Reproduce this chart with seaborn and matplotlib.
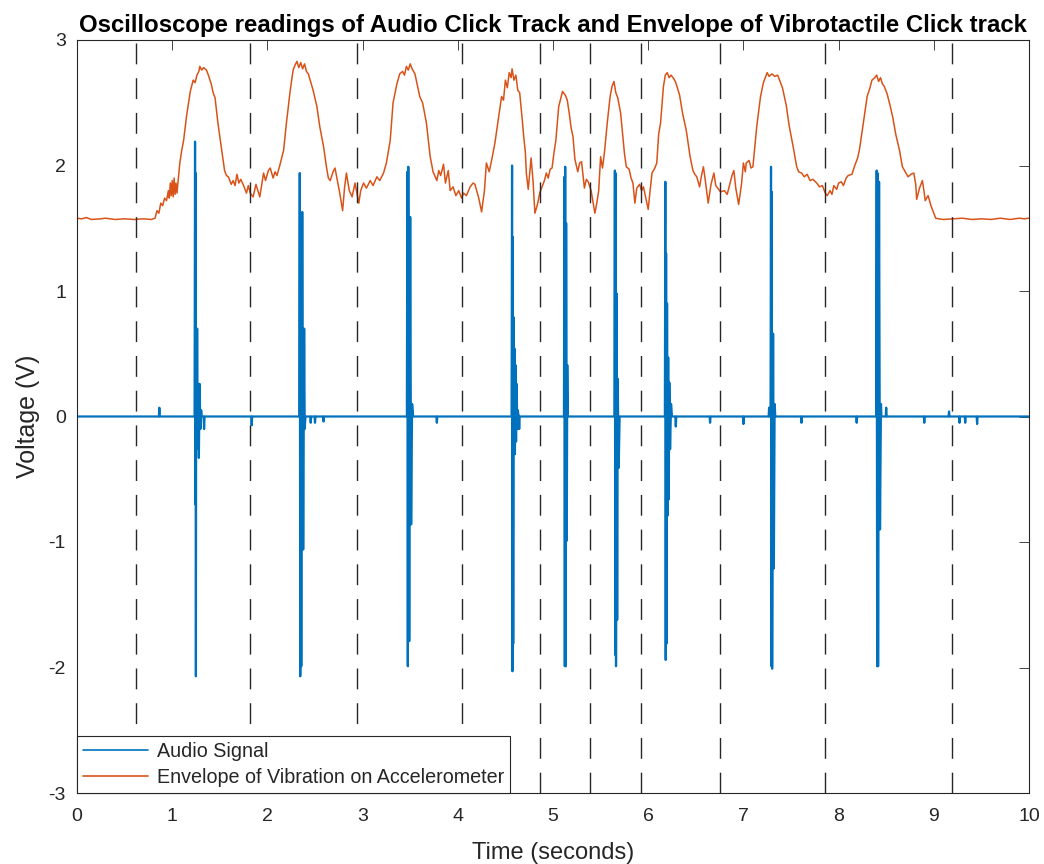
import numpy as np
import pandas as pd
import matplotlib
matplotlib.use("Agg")
import matplotlib.pyplot as plt
import seaborn as sns

# ---------------- data ----------------
env_t = [0.00, 0.05, 0.10, 0.15, 0.25, 0.30, 0.40, 0.50, 0.60, 0.70, 0.78, 0.82, 0.84, 0.86, 0.88, 0.90,
         0.92, 0.94, 0.96, 0.97, 0.98, 0.99, 1.00, 1.01, 1.02, 1.03, 1.04, 1.05, 1.06, 1.08, 1.10, 1.12,
         1.15, 1.19, 1.22, 1.24, 1.26, 1.28, 1.29, 1.31, 1.33, 1.36, 1.38, 1.41, 1.43, 1.45, 1.48, 1.52,
         1.55, 1.57, 1.59, 1.62, 1.64, 1.66, 1.68, 1.70, 1.72, 1.75, 1.78, 1.80, 1.82, 1.85, 1.88, 1.90,
         1.92, 1.96, 1.98, 2.01, 2.03, 2.06, 2.08, 2.10, 2.13, 2.17, 2.20, 2.24, 2.27, 2.29, 2.31, 2.33,
         2.35, 2.37, 2.39, 2.41, 2.43, 2.48, 2.52, 2.55, 2.59, 2.62, 2.64, 2.66, 2.69, 2.71, 2.73, 2.76,
         2.79, 2.81, 2.83, 2.86, 2.89, 2.92, 2.94, 2.96, 2.98, 3.01, 3.04, 3.08, 3.11, 3.15, 3.18, 3.22,
         3.25, 3.29, 3.32, 3.36, 3.39, 3.42, 3.44, 3.46, 3.48, 3.50, 3.52, 3.55, 3.58, 3.60, 3.63, 3.67,
         3.71, 3.74, 3.78, 3.80, 3.82, 3.85, 3.87, 3.90, 3.92, 3.95, 3.98, 4.01, 4.04, 4.06, 4.09, 4.13,
         4.16, 4.18, 4.22, 4.25, 4.28, 4.30, 4.33, 4.36, 4.39, 4.43, 4.46, 4.48, 4.50, 4.52, 4.54, 4.56,
         4.57, 4.59, 4.61, 4.63, 4.65, 4.67, 4.68, 4.69, 4.71, 4.72, 4.74, 4.77, 4.79, 4.81, 4.84, 4.86,
         4.88, 4.91, 4.93, 4.95, 4.97, 4.99, 5.01, 5.03, 5.06, 5.10, 5.13, 5.15, 5.17, 5.19, 5.21, 5.23,
         5.26, 5.28, 5.30, 5.33, 5.35, 5.37, 5.40, 5.44, 5.46, 5.48, 5.50, 5.52, 5.54, 5.57, 5.60, 5.62,
         5.64, 5.66, 5.68, 5.71, 5.73, 5.75, 5.77, 5.80, 5.82, 5.84, 5.86, 5.88, 5.91, 5.93, 5.95, 5.98,
         6.00, 6.02, 6.04, 6.07, 6.09, 6.11, 6.13, 6.16, 6.18, 6.20, 6.22, 6.24, 6.27, 6.29, 6.33, 6.36,
         6.40, 6.44, 6.47, 6.49, 6.51, 6.54, 6.56, 6.58, 6.60, 6.63, 6.66, 6.69, 6.71, 6.73, 6.76, 6.80,
         6.83, 6.86, 6.88, 6.90, 6.92, 6.95, 6.98, 7.00, 7.02, 7.03, 7.06, 7.08, 7.10, 7.14, 7.18, 7.21,
         7.23, 7.25, 7.27, 7.30, 7.33, 7.36, 7.38, 7.41, 7.45, 7.48, 7.52, 7.56, 7.58, 7.61, 7.64, 7.67,
         7.70, 7.73, 7.77, 7.80, 7.83, 7.86, 7.88, 7.91, 7.93, 7.95, 7.98, 8.00, 8.03, 8.05, 8.08, 8.10,
         8.14, 8.17, 8.20, 8.22, 8.26, 8.30, 8.33, 8.35, 8.38, 8.40, 8.42, 8.44, 8.46, 8.48, 8.51, 8.54,
         8.57, 8.60, 8.64, 8.67, 8.70, 8.73, 8.76, 8.79, 8.81, 8.82, 8.85, 8.88, 8.90, 8.91, 8.94, 8.97,
         9.00, 9.02, 9.05, 9.10, 9.20, 9.30, 9.40, 9.50, 9.60, 9.70, 9.80, 9.90, 9.95, 10.00]
env_v = [1.58, 1.575, 1.585, 1.57, 1.575, 1.58, 1.57, 1.575, 1.57, 1.575, 1.57, 1.58, 1.64, 1.62, 1.70, 1.68,
         1.74, 1.72, 1.80, 1.74, 1.86, 1.76, 1.88, 1.75, 1.90, 1.77, 1.86, 1.78, 1.86, 2.02, 2.12, 2.20,
         2.39, 2.59, 2.68, 2.66, 2.72, 2.75, 2.79, 2.76, 2.78, 2.76, 2.72, 2.65, 2.58, 2.54, 2.34, 2.12,
         1.96, 1.92, 1.91, 1.85, 1.88, 1.84, 1.93, 1.86, 1.89, 1.84, 1.78, 1.84, 1.78, 1.75, 1.85, 1.80,
         1.75, 1.94, 1.88, 1.96, 1.98, 1.90, 1.95, 1.92, 2.00, 2.12, 2.34, 2.60, 2.76, 2.80, 2.83, 2.78,
         2.82, 2.77, 2.81, 2.75, 2.73, 2.60, 2.47, 2.31, 2.15, 1.99, 1.90, 1.88, 1.95, 1.98, 1.90, 1.78,
         1.64, 1.82, 1.94, 1.80, 1.75, 1.86, 1.78, 1.70, 1.80, 1.86, 1.82, 1.88, 1.84, 1.91, 1.88, 1.94,
         2.02, 2.20, 2.50, 2.65, 2.73, 2.75, 2.72, 2.79, 2.76, 2.81, 2.77, 2.73, 2.62, 2.55, 2.50, 2.34,
         2.07, 1.95, 1.88, 1.96, 1.92, 2.01, 1.86, 1.96, 1.80, 1.83, 1.76, 1.80, 1.74, 1.78, 1.76, 1.83,
         1.86, 1.85, 1.74, 1.63, 1.80, 2.02, 1.95, 2.06, 2.18, 2.39, 2.55, 2.52, 2.68, 2.62, 2.74, 2.70,
         2.77, 2.68, 2.72, 2.60, 2.58, 2.42, 2.34, 2.25, 2.10, 1.94, 1.81, 2.06, 1.88, 1.62, 1.70, 1.78,
         1.82, 1.88, 1.94, 1.90, 1.97, 1.98, 2.10, 2.20, 2.47, 2.59, 2.56, 2.52, 2.42, 2.30, 2.23, 2.05,
         1.95, 2.02, 2.03, 1.82, 1.89, 1.87, 1.80, 1.62, 1.70, 1.80, 2.07, 1.98, 2.10, 2.34, 2.55, 2.63,
         2.67, 2.58, 2.54, 2.42, 2.26, 2.10, 1.99, 1.97, 1.90, 1.86, 1.70, 1.82, 1.85, 1.80, 1.83, 1.72,
         1.65, 1.80, 1.94, 1.98, 2.02, 2.25, 2.34, 2.63, 2.72, 2.74, 2.70, 2.72, 2.69, 2.66, 2.56, 2.42,
         2.28, 2.07, 1.96, 1.93, 1.91, 1.83, 1.92, 1.99, 1.88, 1.70, 1.85, 1.94, 1.84, 1.82, 1.79, 1.80,
         1.77, 1.86, 1.92, 1.96, 1.82, 1.69, 1.85, 2.02, 1.95, 2.02, 2.04, 1.98, 1.99, 2.31, 2.55, 2.66,
         2.70, 2.74, 2.71, 2.73, 2.71, 2.72, 2.68, 2.62, 2.48, 2.32, 2.16, 1.99, 1.95, 1.94, 1.91, 1.93,
         1.88, 1.89, 1.86, 1.83, 1.84, 1.78, 1.76, 1.80, 1.77, 1.84, 1.81, 1.86, 1.87, 1.84, 1.90, 1.92,
         1.93, 2.00, 2.06, 2.13, 2.34, 2.55, 2.62, 2.68, 2.70, 2.72, 2.67, 2.70, 2.65, 2.63, 2.57, 2.48,
         2.38, 2.25, 2.12, 1.99, 1.95, 1.91, 1.93, 1.94, 1.85, 1.73, 1.82, 1.88, 1.78, 1.72, 1.76, 1.68,
         1.62, 1.58, 1.575, 1.57, 1.575, 1.58, 1.57, 1.575, 1.57, 1.58, 1.57, 1.58, 1.575, 1.58]

audio_t = [0.00, 0.40, 0.86, 0.865, 0.87, 1.235, 1.240, 1.243, 1.246, 1.249, 1.252, 1.256, 1.262, 1.268,
           1.274, 1.280, 1.288, 1.296, 1.304, 1.31, 1.33, 1.335, 1.34, 1.83, 1.835, 1.84,
           2.335, 2.340, 2.345, 2.350, 2.356, 2.366, 2.376, 2.386, 2.392, 2.40, 2.45, 2.455, 2.46,
           2.495, 2.50, 2.505, 2.585, 2.59, 2.595,
           3.465, 3.470, 3.475, 3.480, 3.490, 3.500, 3.510, 3.520, 3.53, 3.775, 3.78, 3.785,
           4.565, 4.570, 4.574, 4.578, 4.582, 4.588, 4.592, 4.596, 4.600, 4.606, 4.612, 4.618, 4.625,
           4.63, 4.64, 4.645, 4.65, 5.115, 5.120, 5.124, 5.128, 5.133, 5.138, 5.145, 5.150, 5.155,
           5.645, 5.650, 5.654, 5.658, 5.662, 5.668, 5.674, 5.680, 5.690, 5.70,
           6.175, 6.180, 6.184, 6.188, 6.192, 6.198, 6.204, 6.210, 6.216, 6.222, 6.230, 6.240, 6.25,
           6.285, 6.29, 6.295, 6.645, 6.65, 6.655, 6.995, 7.00, 7.005,
           7.265, 7.27, 7.275,
           7.285, 7.290, 7.294, 7.298, 7.302, 7.312, 7.320, 7.328, 7.335, 7.605, 7.61, 7.615,
           8.185, 8.19, 8.195,
           8.395, 8.400, 8.405, 8.410, 8.415, 8.425, 8.435, 8.445, 8.45, 8.495, 8.50, 8.505,
           8.895, 8.90, 8.905, 9.155, 9.16, 9.165, 9.265, 9.27, 9.275, 9.325, 9.33, 9.335,
           9.45, 9.455, 9.46, 10.00]
audio_v = [0.0, 0.0, 0.0, 0.07, 0.0, 0.0, 2.19, -0.70, 1.94, -2.07, 0.70, -0.26, 0.70, -0.14,
           0.26, -0.33, 0.26, -0.10, 0.05, 0.0, 0.0, -0.10, 0.0, 0.0, -0.07, 0.0,
           0.0, 1.94, -2.07, 0.30, -1.99, 1.63, -1.06, 0.70, -0.10, 0.0, 0.0, -0.05, 0.0,
           0.0, -0.05, 0.0, 0.0, -0.04, 0.0,
           0.0, 1.95, -1.99, 1.99, -1.79, 1.59, -0.86, 0.10, 0.0, 0.0, -0.05, 0.0,
           0.0, 2.00, -2.03, 1.43, -1.81, 0.79, -0.21, 0.54, -0.30, 0.41, -0.20, 0.26, -0.10,
           0.05, 0.0, -0.10, 0.0, 0.0, 1.91, -1.99, 1.99, -1.99, 1.54, -0.99, 0.41, 0.0,
           0.0, 1.96, -1.90, 1.94, -1.99, 0.98, -1.62, 0.30, -0.41, 0.0,
           0.0, 1.87, -1.94, 1.30, -1.81, 0.90, -0.79, 0.47, -0.66, 0.27, -0.26, 0.10, 0.0,
           0.0, -0.08, 0.0, 0.0, -0.05, 0.0, 0.0, -0.06, 0.0,
           0.0, 0.07, 0.0,
           0.0, 1.99, -1.99, 1.79, -2.01, 0.66, -1.21, 0.10, 0.0, 0.0, -0.05, 0.0,
           0.0, -0.05, 0.0,
           0.0, 1.96, -1.99, 1.94, -1.99, 1.87, -0.90, 0.10, 0.0, 0.0, 0.07, 0.0,
           0.0, -0.05, 0.0, 0.0, 0.04, 0.0, 0.0, -0.05, 0.0, 0.0, -0.05, 0.0,
           0.0, -0.06, 0.0, 0.0]

beat_times = [0.62, 1.82, 2.94, 4.04, 4.86, 5.39, 5.92, 6.75, 7.86, 9.19]

x_ticks = [0, 1, 2, 3, 4, 5, 6, 7, 8, 9, 10]
y_ticks = [-3, -2, -1, 0, 1, 2, 3]

title_text = "Oscilloscope readings of Audio Click Track and Envelope of Vibrotactile Click track"
series_names = ["Audio Signal", "Envelope of Vibration on Accelerometer"]
colors = ["#0072BD", "#D95319"]

# ---------------- plot ----------------
sns.set_theme(style="white")
plt.rcParams["font.family"] = ["Liberation Sans", "DejaVu Sans"]
plt.rcParams["axes.unicode_minus"] = False

fig = plt.figure(figsize=(10.44, 8.64), dpi=100)
ax = fig.add_axes([77 / 1044, 1 - 793 / 864, (1029 - 77) / 1044, (793 - 40) / 864])

df_a = pd.DataFrame({"t": audio_t, "v": audio_v})
df_e = pd.DataFrame({"t": env_t, "v": env_v})
sns.lineplot(data=df_a, x="t", y="v", ax=ax, color=colors[0], lw=1.6,
             estimator=None, sort=False, label=series_names[0])
sns.lineplot(data=df_e, x="t", y="v", ax=ax, color=colors[1], lw=1.1,
             estimator=None, sort=False, label=series_names[1])

for bt in beat_times:
    ax.axvline(bt, color="#262626", lw=1.0, linestyle=(0, (15, 10)), zorder=3)

ax.set_xlim(0, 10)
ax.set_ylim(-3, 3)
ax.set_xticks(x_ticks)
ax.set_yticks(y_ticks)
ax.set_xticklabels([str(v) for v in x_ticks])
ax.set_yticklabels([str(v) for v in y_ticks])

tc = "#262626"
ax.tick_params(direction="in", length=7, width=0.6, colors=tc, labelsize=14,
               top=True, right=True)
ax.tick_params(axis="x", pad=11)
ax.tick_params(axis="y", pad=8)
for s in ax.spines.values():
    s.set_color(tc)
    s.set_linewidth(0.8)
    s.set_visible(True)

ax.set_xlabel("Time (seconds)", fontsize=17, color=tc, labelpad=12)
ax.set_ylabel("Voltage (V)", fontsize=18, color=tc, labelpad=6)
ax.set_title(title_text, fontsize=17.3, fontweight="bold", color="black", pad=6)

leg = ax.legend(loc="lower left", bbox_to_anchor=(0, 0), borderaxespad=0,
                fontsize=14.2, frameon=True, fancybox=False, framealpha=1,
                handlelength=3.3, handletextpad=0.45, labelspacing=0.35,
                borderpad=0.3)
leg.get_frame().set_edgecolor(tc)
leg.get_frame().set_linewidth(0.8)
for t in leg.get_texts():
    t.set_color(tc)
for h in leg.get_lines():
    h.set_linewidth(1.2)
leg.set_zorder(5)

fig.savefig("out.png", dpi=100)
